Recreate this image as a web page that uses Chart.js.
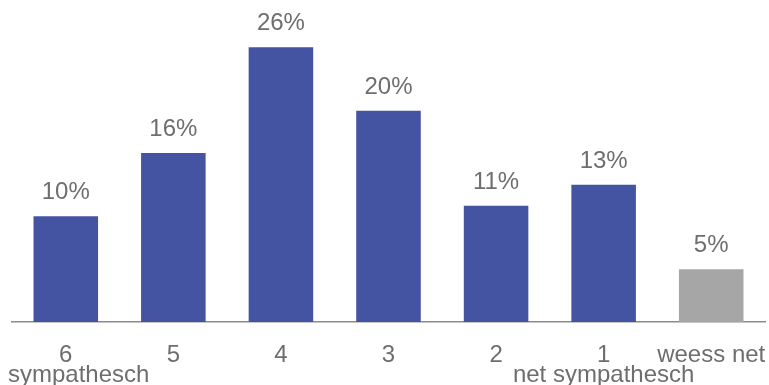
<!DOCTYPE html>
<html>
<head>
<meta charset="utf-8">
<script src="https://cdn.jsdelivr.net/npm/chart.js@4/dist/chart.umd.min.js"></script>
<style>
    html, body { margin: 0; padding: 0; background: #ffffff; }
    #wrap { width: 769px; height: 385px; }
</style>
</head>
<body>
<div id="wrap"><canvas id="chart" width="769" height="385"></canvas></div>
<script>
// Chart data
const categories = [["6", "sympathesch"], ["5"], ["4"], ["3"], ["2"], ["1", "net sympathesch"], ["weess net"]];
const values = [10, 16, 26, 20, 11, 13, 5];
const barColors = ["#4553a3", "#4553a3", "#4553a3", "#4553a3", "#4553a3", "#4553a3", "#a6a6a6"];

const FONT = "24px 'Liberation Sans', Arial, sans-serif";
const TEXT_COLOR = "#6e6e6e";

// Value labels above each bar
const valueLabels = {
    id: "valueLabels",
    afterDatasetsDraw(chart) {
        const ctx = chart.ctx;
        const meta = chart.getDatasetMeta(0);
        ctx.save();
        ctx.font = FONT;
        ctx.fillStyle = TEXT_COLOR;
        ctx.textAlign = "center";
        ctx.textBaseline = "alphabetic";
        meta.data.forEach((bar, i) => {
            ctx.fillText(values[i] + "%", bar.x, bar.y - 17);
        });
        ctx.restore();
    }
};

// Category labels under the axis, kept inside the canvas
const categoryLabels = {
    id: "categoryLabels",
    afterDraw(chart) {
        const ctx = chart.ctx;
        const xScale = chart.scales.x;
        const base = chart.chartArea.bottom;
        ctx.save();
        ctx.font = FONT;
        ctx.fillStyle = TEXT_COLOR;
        ctx.textAlign = "left";
        ctx.textBaseline = "alphabetic";
        categories.forEach((lines, i) => {
            const cx = xScale.getPixelForValue(i);
            lines.forEach((line, j) => {
                const w = ctx.measureText(line).width;
                let left = cx - w / 2;
                if (left < 8) left = 8;
                if (left + w > chart.width - 2) left = chart.width - 2 - w;
                ctx.fillText(line, left, base + 40 + j * 20);
            });
        });
        ctx.restore();
    }
};

function initChart() {
    const ctx = document.getElementById("chart").getContext("2d");
    new Chart(ctx, {
        type: "bar",
        data: {
            labels: categories.map(c => c.join(" ")),
            datasets: [{
                data: values,
                backgroundColor: barColors,
                borderWidth: 0,
                barPercentage: 0.6,
                categoryPercentage: 1.0
            }]
        },
        options: {
            responsive: false,
            animation: false,
            layout: { padding: { top: 5, bottom: 63, left: 12, right: 4 } },
            plugins: {
                legend: { display: false },
                tooltip: { enabled: false }
            },
            scales: {
                x: {
                    grid: { display: false, drawTicks: false },
                    border: { display: true, color: "#8c8c8c", width: 1.5 },
                    ticks: { display: false }
                },
                y: {
                    display: false,
                    min: 0,
                    max: 30
                }
            }
        },
        plugins: [valueLabels, categoryLabels]
    });
}

window.onload = initChart;
</script>
</body>
</html>
